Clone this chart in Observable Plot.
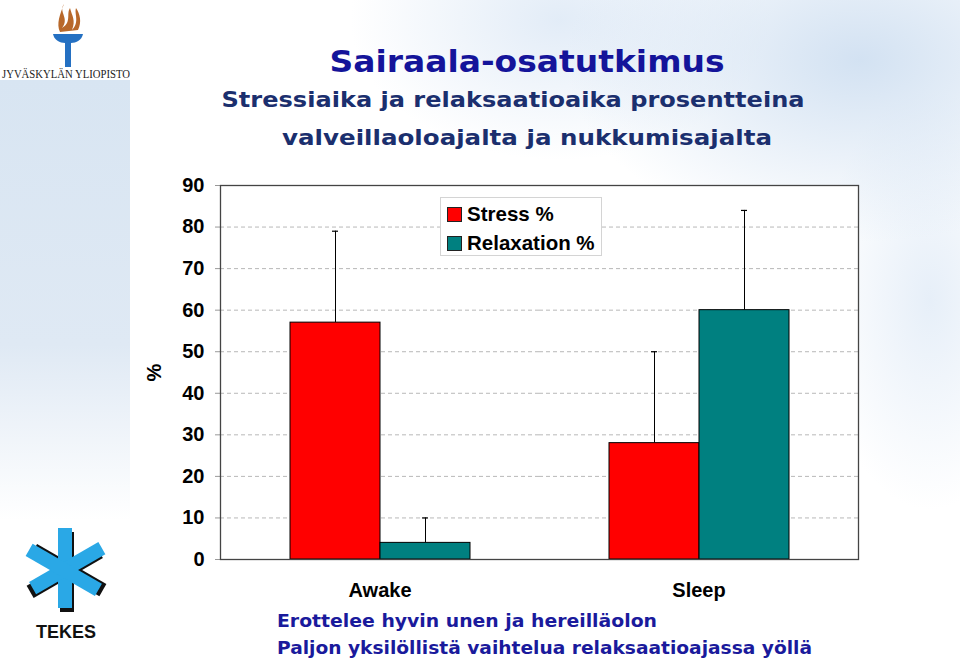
<!DOCTYPE html>
<html>
<head>
<meta charset="utf-8">
<script src="https://cdn.jsdelivr.net/npm/d3@7"></script>
<script src="https://cdn.jsdelivr.net/npm/@observablehq/plot@0.6"></script>
<style>
  html, body { margin: 0; padding: 0; }
  body { width: 960px; height: 664px; overflow: hidden; background: #ffffff; }
  #slide { position: relative; width: 960px; height: 664px; overflow: hidden;
    background:
      radial-gradient(ellipse 420px 260px at 860px 60px, rgba(196,216,238,0.75), rgba(255,255,255,0) 70%),
      radial-gradient(ellipse 300px 200px at 560px 20px, rgba(214,228,244,0.7), rgba(255,255,255,0) 70%),
      radial-gradient(ellipse 160px 300px at 930px 300px, rgba(214,228,244,0.6), rgba(255,255,255,0) 70%),
      #ffffff; }
  #strip { position: absolute; left: 0; top: 80px; width: 130px; height: 440px;
    background: linear-gradient(to bottom, #d8e5f2 0%, #dfe9f4 60%, rgba(240,245,250,0) 100%); }
  #deco { position: absolute; left: 0; top: 0; }
  #chart { position: absolute; left: 0; top: 0; }
  #legend { position: absolute; left: 440px; top: 197px; width: 162px; height: 59px;
    background: #ffffff; border: 1px solid #d4d4d4; box-sizing: border-box;
    font-family: "Liberation Sans", Arial, sans-serif; font-size: 20.5px; font-weight: bold; color: #000; }
  .li { position: absolute; left: 6px; height: 22px; display: flex; align-items: center; white-space: nowrap; }
  .sw { width: 13px; height: 13px; border: 1px solid #222; margin-right: 5px; }
</style>
</head>
<body>
<div id="slide">
  <div id="strip"></div>
  <svg id="deco" width="960" height="664">
    <!-- JYU torch logo -->
    <path d="M64,4 C58,12 70,18 62,28 C72,22 66,14 70,8 C72,16 76,20 72,30 C80,22 74,14 76,8 C80,14 82,22 78,30 L60,32 C56,24 60,14 64,4 Z" fill="#b8682a"/>
    <path d="M53,34 L83,34 C82,40 76,43 71,43 L65,43 C60,43 54,40 53,34 Z" fill="#2470c2"/>
    <rect x="65" y="43" width="6" height="24" fill="#2470c2"/>
    <text x="66" y="78" text-anchor="middle" font-family="Liberation Serif, serif" font-size="11.5" fill="#222" textLength="128" lengthAdjust="spacingAndGlyphs">JYVÄSKYLÄN YLIOPISTO</text>
    <!-- TEKES logo -->
    <g transform="translate(66,570)">
      <g fill="#111">
        <rect x="-6" y="-38" width="14" height="80" transform="rotate(60)"/>
        <rect x="-6" y="-38" width="14" height="80" transform="rotate(-60)"/>
        <rect x="-6" y="-38" width="14" height="80"/>
      </g>
      <g fill="#2aa8e6">
        <rect x="-8" y="-42" width="14" height="80"/>
        <rect x="-8" y="-42" width="14" height="80" transform="rotate(60)"/>
        <rect x="-8" y="-42" width="14" height="80" transform="rotate(-60)"/>
      </g>
    </g>
    <text x="66" y="638" text-anchor="middle" font-family="Liberation Sans, Arial, sans-serif" font-weight="bold" font-size="18" fill="#111">TEKES</text>
    <!-- Titles -->
    <text x="527" y="72" text-anchor="middle" font-family="'Comic Sans MS', 'DejaVu Sans', sans-serif" font-weight="bold" font-size="31" fill="#14149a" textLength="395" lengthAdjust="spacingAndGlyphs">Sairaala-osatutkimus</text>
    <text x="513" y="107" text-anchor="middle" font-family="'Comic Sans MS', 'DejaVu Sans', sans-serif" font-weight="bold" font-size="22" fill="#1b2f6e" textLength="583" lengthAdjust="spacingAndGlyphs">Stressiaika ja relaksaatioaika prosentteina</text>
    <text x="527" y="145" text-anchor="middle" font-family="'Comic Sans MS', 'DejaVu Sans', sans-serif" font-weight="bold" font-size="22" fill="#1b2f6e" textLength="490" lengthAdjust="spacingAndGlyphs">valveillaoloajalta ja nukkumisajalta</text>
    <!-- Footer notes -->
    <text x="277" y="627" font-family="'Comic Sans MS', 'DejaVu Sans', sans-serif" font-weight="bold" font-size="18" fill="#1a1a9c" textLength="380" lengthAdjust="spacingAndGlyphs">Erottelee hyvin unen ja hereilläolon</text>
    <text x="277" y="654" font-family="'Comic Sans MS', 'DejaVu Sans', sans-serif" font-weight="bold" font-size="18" fill="#1a1a9c" textLength="535" lengthAdjust="spacingAndGlyphs">Paljon yksilöllistä vaihtelua relaksaatioajassa yöllä</text>
  </svg>
  <div id="chart"></div>
  <div id="legend">
    <div class="li" style="top:5px"><div class="sw" style="background:#ff0000"></div><span>Stress %</span></div>
    <div class="li" style="top:34px"><div class="sw" style="background:#008080"></div><span>Relaxation %</span></div>
  </div>
</div>
<script>
// ---- Data ----
const categories = ["Awake", "Sleep"];
const series = ["Stress %", "Relaxation %"];
const stressValues = [57, 28];
const relaxationValues = [4, 60];
const stressErrorTop = [79, 50];
const relaxationErrorTop = [10, 84];
const yTicks = [0, 10, 20, 30, 40, 50, 60, 70, 80, 90];
const gridTicks = [10, 20, 30, 40, 50, 60, 70, 80];
const seriesColors = ["#ff0000", "#008080"];

const rows = [];
categories.forEach((c, i) => {
  rows.push({category: c, series: series[0], value: stressValues[i], errTop: stressErrorTop[i]});
  rows.push({category: c, series: series[1], value: relaxationValues[i], errTop: relaxationErrorTop[i]});
});

const chart = Plot.plot({
  width: 960,
  height: 664,
  marginLeft: 219,
  marginRight: 102,
  marginTop: 185,
  marginBottom: 105,
  style: {background: "transparent", fontFamily: "'Liberation Sans', Arial, sans-serif", color: "#000"},
  fx: {domain: categories, padding: 0, label: null, axis: null},
  x: {domain: series, paddingInner: 0, paddingOuter: 0.758, axis: null},
  y: {domain: [0, 90], axis: null},
  color: {domain: series, range: seriesColors},
  marks: [
    Plot.frame({fill: "#ffffff", stroke: null, facet: "super"}),
    Plot.gridY(gridTicks, {stroke: "#b8b8b8", strokeOpacity: 1, strokeDasharray: "4,3"}),
    Plot.axisY(yTicks, {anchor: "left", tickSize: 5, stroke: "#999", tickFormat: () => "", label: null}),
    Plot.axisY(yTicks, {anchor: "left", tickSize: 0, tickPadding: 16, fontSize: 20, fontWeight: "bold", label: "%", labelAnchor: "center", labelArrow: false, labelOffset: 74}),
    Plot.axisFx({anchor: "bottom", tickSize: 0, tickPadding: 23, fontSize: 20, fontWeight: "bold", label: null}),
    Plot.ruleX(rows, {fx: "category", x: "series", y1: "value", y2: "errTop", stroke: "#000", strokeWidth: 1}),
    Plot.tickY(rows, {fx: "category", x: "series", y: "errTop", stroke: "#000", strokeWidth: 1.2, insetLeft: 42, insetRight: 42}),
    Plot.barY(rows, {fx: "category", x: "series", y: "value", fill: "series", stroke: "#000", strokeWidth: 1}),
    Plot.frame({stroke: "#444", strokeWidth: 1.3, facet: "super"})
  ]
});
document.getElementById("chart").appendChild(chart);
</script>
</body>
</html>
